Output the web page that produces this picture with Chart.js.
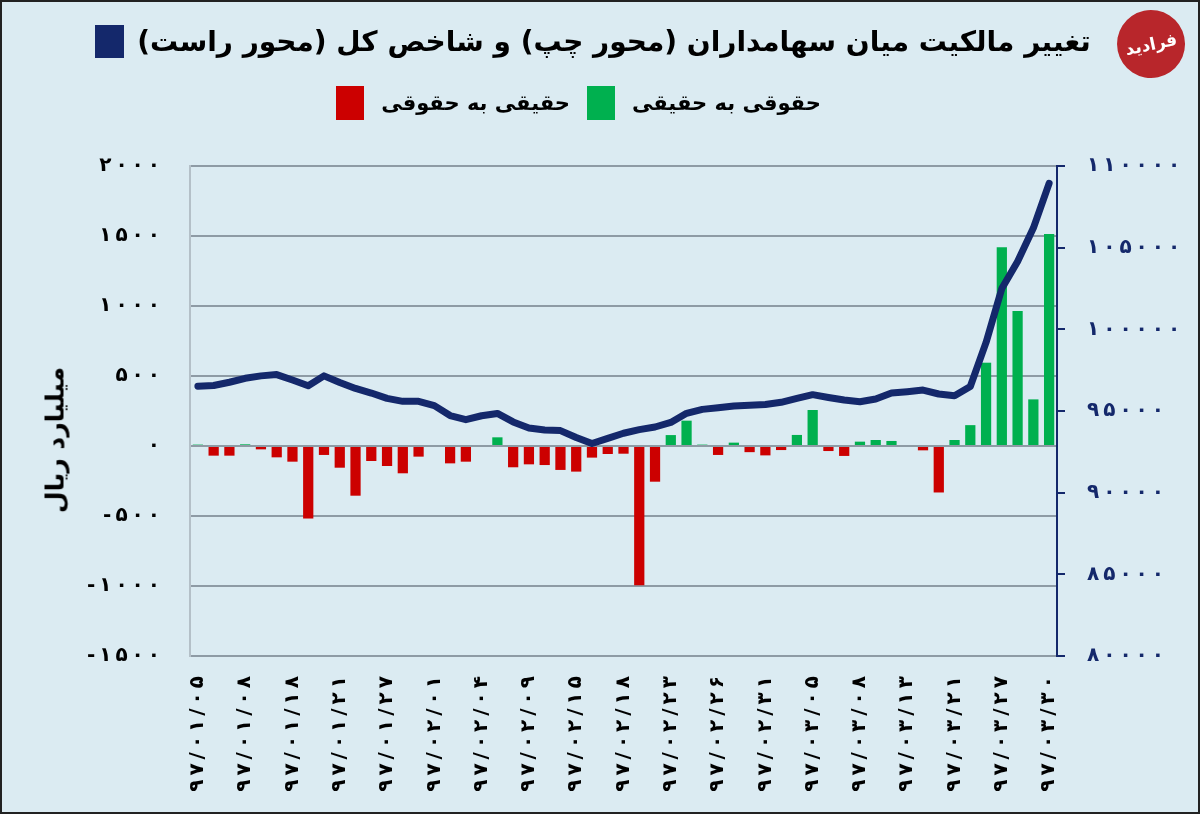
<!DOCTYPE html>
<html>
<head>
<meta charset="utf-8">
<script src="https://cdn.jsdelivr.net/npm/chart.js@4.4.1/dist/chart.umd.min.js"></script>
<style>
  html, body { margin: 0; padding: 0; }
  body { width: 1200px; height: 814px; background: #dbebf2; position: relative; overflow: hidden;
         font-family: "DejaVu Sans", "Noto Sans", sans-serif; }
  #wrap { position: absolute; left: 0; top: 0; width: 1200px; height: 814px; }
  .frame { position: absolute; inset: 0; border: 2px solid #222; pointer-events: none; }
  .head { position: absolute; left: 0; width: 1200px; box-sizing: border-box; display: flex;
          justify-content: center; align-items: center; direction: rtl; font-weight: bold; color: #000; }
  #title { top: 25px; font-size: 28px; padding-right: 14px; }
  #legend { top: 86px; font-size: 21px; padding-right: 60px; }
  .sw { display: inline-block; width: 28px; height: 34px; margin: 0 17px 0 17px; }
  #title .sw { width: 29px; height: 33px; margin: 0 13px 0 0; }
  #yTitle { position: absolute; left: 55px; top: 440px; transform: translate(-50%, -50%) rotate(-90deg);
            white-space: nowrap; direction: rtl; font-weight: bold; font-size: 25px; color: #000; }
  #logo { position: absolute; left: 1117px; top: 10px; width: 68px; height: 68px; border-radius: 50%;
          background: #b8262b; color: #fff; font-weight: bold; font-size: 17px; display: flex;
          align-items: center; justify-content: center; direction: rtl; transform: rotate(-12deg); }
</style>
</head>
<body>
<div id="wrap"><canvas id="ownershipChart"></canvas></div>
<div id="title" class="head">
  <span>تغییر مالکیت میان سهامداران (محور چپ) و شاخص کل (محور راست)</span>
  <span class="sw" style="background:#14286b"></span>
</div>
<div id="legend" class="head">
  <span>حقوقی به حقیقی</span>
  <span class="sw" style="background:#00b04f"></span>
  <span>حقیقی به حقوقی</span>
  <span class="sw" style="background:#cc0000"></span>
</div>
<div id="yTitle">میلیارد ریال</div>
<div id="logo">فرادید</div>
<div class="frame"></div>
<script>
// تاریخ‌های نمایش داده شده روی محور افقی (هر سه روز معاملاتی یک برچسب)
const tickDates = [
    '۹۷/۰۱/۰۵', '۹۷/۰۱/۰۸', '۹۷/۰۱/۱۸', '۹۷/۰۱/۲۱', '۹۷/۰۱/۲۷', '۹۷/۰۲/۰۱', '۹۷/۰۲/۰۴',
    '۹۷/۰۲/۰۹', '۹۷/۰۲/۱۵', '۹۷/۰۲/۱۸', '۹۷/۰۲/۲۳', '۹۷/۰۲/۲۶', '۹۷/۰۲/۳۱', '۹۷/۰۳/۰۵',
    '۹۷/۰۳/۰۸', '۹۷/۰۳/۱۳', '۹۷/۰۳/۲۱', '۹۷/۰۳/۲۷', '۹۷/۰۳/۳۰'
];

// تغییر مالکیت (میلیارد ریال) - مثبت: حقوقی به حقیقی، منفی: حقیقی به حقوقی
const ownershipChange = [
    10, -69, -69, 12, -24, -81, -112, -518, -64, -155,
    -355, -107, -143, -195, -76, 0, -124, -112, 0, 62,
    -152, -131, -136, -171, -183, -83, -57, -55, -995, -255,
    78, 181, 10, -64, 24, -44, -67, -29, 79, 257,
    -36, -71, 31, 43, 36, 0, -31, -332, 43, 149,
    595, 1420, 964, 333, 1514
];

// شاخص کل بورس
const totalIndex = [
    96520, 96560, 96760, 97000, 97150, 97230, 96900, 96550, 97150, 96740,
    96380, 96100, 95770, 95590, 95590, 95330, 94720, 94470, 94710, 94850,
    94330, 93960, 93840, 93800, 93380, 93010, 93320, 93640, 93860, 94020,
    94300, 94860, 95100, 95200, 95300, 95350, 95400, 95530, 95770, 96000,
    95830, 95670, 95570, 95730, 96100, 96180, 96280, 96040, 95930, 96500,
    99200, 102500, 104160, 106200, 108940
];

const leftTicks = [-1500, -1000, -500, 0, 500, 1000, 1500, 2000];
const rightTicks = [80000, 85000, 90000, 95000, 100000, 105000, 110000];

// اعداد فارسی
function toFa(n) {
    return String(n).replace(/\d/g, d => '۰۱۲۳۴۵۶۷۸۹'[d]);
}

// ارقام با فاصله‌ی کم از هم، مثل تصویر اصلی
function spaced(s) {
    return s ? Array.from(s).join('\u2009') : s;
}

// برچسب‌ها: فقط هر سه نقطه یک تاریخ
const labels = ownershipChange.map((v, i) => (i % 3 === 0 ? tickDates[i / 3] : ''));

const toIndividual = ownershipChange.map(v => (v > 0 ? v : null));
const toLegal = ownershipChange.map(v => (v < 0 ? v : null));

const tickFont = { family: 'DejaVu Sans', size: 20, weight: 'bold' };

const ctx = document.getElementById('ownershipChart').getContext('2d');
new Chart(ctx, {
    type: 'bar',
    data: {
        labels: labels,
        datasets: [
            {
                type: 'line',
                label: 'شاخص کل',
                data: totalIndex,
                yAxisID: 'y2',
                borderColor: '#14286b',
                borderWidth: 7,
                pointRadius: 0,
                tension: 0,
                borderCapStyle: 'round',
                borderJoinStyle: 'round',
                order: 0
            },
            {
                label: 'حقوقی به حقیقی',
                data: toIndividual,
                backgroundColor: '#00b04f',
                barPercentage: 0.65,
                categoryPercentage: 1.0,
                order: 1
            },
            {
                label: 'حقیقی به حقوقی',
                data: toLegal,
                backgroundColor: '#cc0000',
                barPercentage: 0.65,
                categoryPercentage: 1.0,
                order: 2
            }
        ]
    },
    options: {
        responsive: true,
        maintainAspectRatio: false,
        animation: false,
        layout: { padding: { top: 166, left: 0, right: 0, bottom: 0 } },
        plugins: {
            legend: { display: false },
            tooltip: { enabled: false }
        },
        scales: {
            x: {
                stacked: true,
                grid: { display: false },
                border: { display: false },
                ticks: {
                    autoSkip: false,
                    minRotation: 90,
                    maxRotation: 90,
                    padding: 12,
                    color: '#000',
                    font: tickFont,
                    callback: (v, i) => spaced(labels[i])
                },
                afterFit: s => { s.height = 158; }
            },
            y: {
                stacked: true,
                position: 'left',
                min: -1500,
                max: 2000,
                afterBuildTicks: s => { s.ticks = leftTicks.map(v => ({ value: v })); },
                grid: { color: '#8e9ba5', lineWidth: 2, drawTicks: false },
                border: { color: '#b4c0c8', width: 2 },
                ticks: {
                    padding: 30,
                    color: '#000',
                    font: tickFont,
                    callback: v => spaced(toFa(v))
                },
                afterFit: s => { s.width = 190; }
            },
            y2: {
                position: 'right',
                min: 80000,
                max: 110000,
                afterBuildTicks: s => { s.ticks = rightTicks.map(v => ({ value: v })); },
                grid: { drawOnChartArea: false, color: '#14286b', lineWidth: 2, tickLength: 8 },
                border: { color: '#14286b', width: 2 },
                ticks: {
                    padding: 22,
                    color: '#14286b',
                    font: tickFont,
                    callback: v => spaced(toFa(v))
                },
                afterFit: s => { s.width = 143; }
            }
        }
    }
});
</script>
</body>
</html>
